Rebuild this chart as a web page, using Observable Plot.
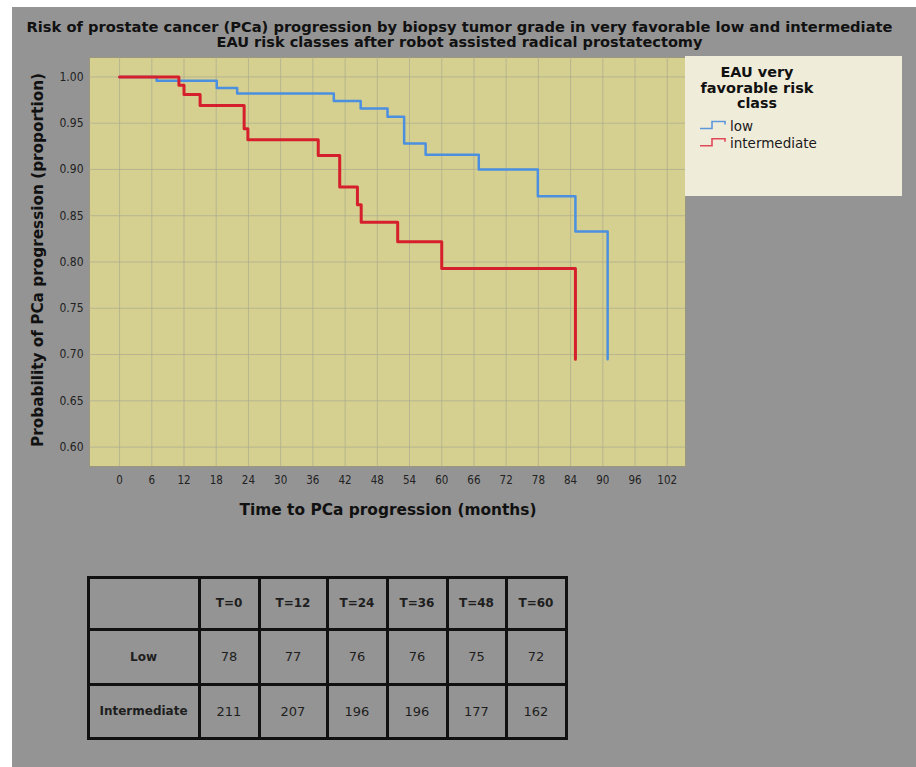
<!DOCTYPE html>
<html>
<head>
<meta charset="utf-8">
<script src="https://cdn.jsdelivr.net/npm/d3@7"></script>
<script src="https://cdn.jsdelivr.net/npm/@observablehq/plot@0.6"></script>
<style>
  html, body { margin: 0; padding: 0; background: #fff; }
  #page { position: relative; width: 916px; height: 767px; overflow: hidden; background: #fff; }
  #bg { position: absolute; left: 12px; top: 7px; right: 0; bottom: 0; background: #949494; }
  #chart { position: absolute; left: 0; top: 0; }
  #ann { position: absolute; left: 0; top: 0; }
  #risk {
    position: absolute; left: 86.5px; top: 575.5px;
    border-collapse: collapse; table-layout: fixed;
    font-family: "DejaVu Sans", sans-serif; color: #1e1e1e;
  }
  #risk td { border: 3px solid #111; text-align: center; padding: 0; font-size: 13px; }
  #risk td.h { font-weight: bold; font-size: 12px; }
</style>
</head>
<body>
<div id="page">
  <div id="bg"></div>
  <div id="chart"></div>
  <svg id="ann" width="916" height="767"></svg>
  <table id="risk"></table>
</div>
<script>
// Kaplan–Meier step estimates: event times (months) and progression-free proportion
const lowTimes = [0, 6.9, 18.1, 21.9, 39.9, 44.9, 49.9, 53, 57, 66.9, 77.9, 84.9, 90.9];
const lowSurv  = [1.000, 0.996, 0.988, 0.982, 0.974, 0.966, 0.957, 0.928, 0.916, 0.900, 0.871, 0.833, 0.695];
const intTimes = [0, 11.05, 12, 15, 23.2, 23.9, 37, 41, 44.3, 45, 51.8, 60, 84.9];
const intSurv  = [1.000, 0.991, 0.981, 0.969, 0.944, 0.932, 0.915, 0.881, 0.862, 0.843, 0.822, 0.793, 0.695];

// axis ticks
const xTicks = d3.range(0, 103, 6);
const yTicks = [0.60, 0.65, 0.70, 0.75, 0.80, 0.85, 0.90, 0.95, 1.00];

// legend
const classNames = ["low", "intermediate"];
const classColors = ["#4a8fe0", "#d61f2c"];
const legendColors = ["#5d97dc", "#e04a58"];

// numbers at risk
const riskTimes = [0, 12, 24, 36, 48, 60];
const riskRows = ["Low", "Intermediate"];
const riskLow = [78, 77, 76, 76, 75, 72];
const riskInt = [211, 207, 196, 196, 177, 162];

const lowData = lowTimes.map((t, i) => ({t, s: lowSurv[i]}));
const intData = intTimes.map((t, i) => ({t, s: intSurv[i]}));

const chart = Plot.plot({
  width: 916,
  height: 530,
  marginLeft: 89,
  marginRight: 231,
  marginTop: 57,
  marginBottom: 64,
  style: {background: "transparent", fontFamily: "DejaVu Sans Condensed, DejaVu Sans, sans-serif", fontSize: "12px", color: "#222"},
  x: {domain: [-5.6, 105.4]},
  y: {domain: [0.579, 1.021]},
  marks: [
    Plot.frame({fill: "#d5d08f", stroke: "#9a977c", strokeWidth: 1}),
    Plot.gridX(xTicks, {stroke: "#aba990", strokeOpacity: 0.7, strokeWidth: 1}),
    Plot.gridY(yTicks, {stroke: "#aba990", strokeOpacity: 0.7, strokeWidth: 1}),
    Plot.axisX(xTicks, {tickSize: 0, tickPadding: 9, fontSize: 11.5, label: null, fill: "#222"}),
    Plot.axisY(yTicks, {tickSize: 0, tickPadding: 6, fontSize: 12, label: null, fill: "#222", tickFormat: d3.format(".2f")}),
    Plot.line(lowData, {x: "t", y: "s", curve: "step-after", stroke: classColors[0], strokeWidth: 2.5}),
    Plot.line(intData, {x: "t", y: "s", curve: "step-after", stroke: classColors[1], strokeWidth: 3})
  ]
});
document.getElementById("chart").append(chart);

// titles, axis labels and legend
const ann = d3.select("#ann");
const bold = "DejaVu Sans, sans-serif";
function label(text, x, y, len, size, opts = {}) {
  const t = ann.append("text")
    .attr("x", x).attr("y", y)
    .attr("text-anchor", opts.anchor || "middle")
    .attr("font-family", bold)
    .attr("font-weight", opts.weight || "bold")
    .attr("font-size", size)
    .attr("fill", opts.fill || "#111")
    .text(text);
  if (len) t.attr("textLength", len).attr("lengthAdjust", "spacingAndGlyphs");
  if (opts.rotate) t.attr("transform", `rotate(-90 ${x} ${y})`);
  return t;
}
label("Risk of prostate cancer (PCa) progression by biopsy tumor grade in very favorable low and intermediate", 459.5, 31.5, 866, 14);
label("EAU risk classes after robot assisted radical prostatectomy", 459.5, 46.5, 486, 14);
label("Time to PCa progression (months)", 388, 515, 297, 16);
label("Probability of PCa progression (proportion)", 43, 260, 374, 16, {rotate: true});

// legend box
const lg = ann.append("g");
lg.append("rect").attr("x", 685).attr("y", 56).attr("width", 217).attr("height", 140).attr("fill", "#f0ecda");
label("EAU very", 757, 77, 73, 14);
label("favorable risk", 757, 92.5, 113, 14);
label("class", 757, 108, 40, 14);
classNames.forEach((name, i) => {
  const yb = 128.5 + i * 17.3;
  lg.append("path")
    .attr("d", `M700,${yb} H712 V${yb - 7} H725 V${yb - 4}`)
    .attr("fill", "none").attr("stroke", legendColors[i]).attr("stroke-width", 1.6);
  label(name, 730, yb + 2, null, 13.5, {anchor: "start", weight: "normal", fill: "#1a1a1a"});
});

// numbers-at-risk table
const colWidths = [111, 60, 68, 60, 60, 59, 60];
const rowHeights = [52, 55, 54];
const table = d3.select("#risk").style("width", d3.sum(colWidths) + "px");
const cg = table.append("colgroup");
colWidths.forEach(w => cg.append("col").style("width", w + "px"));
const head = table.append("tr").style("height", rowHeights[0] + "px");
head.append("td");
riskTimes.forEach(t => head.append("td").attr("class", "h").text(`T=${t}`));
[riskLow, riskInt].forEach((vals, r) => {
  const tr = table.append("tr").style("height", rowHeights[r + 1] + "px");
  tr.append("td").attr("class", "h").text(riskRows[r]);
  vals.forEach(v => tr.append("td").text(v));
});
</script>
</body>
</html>
